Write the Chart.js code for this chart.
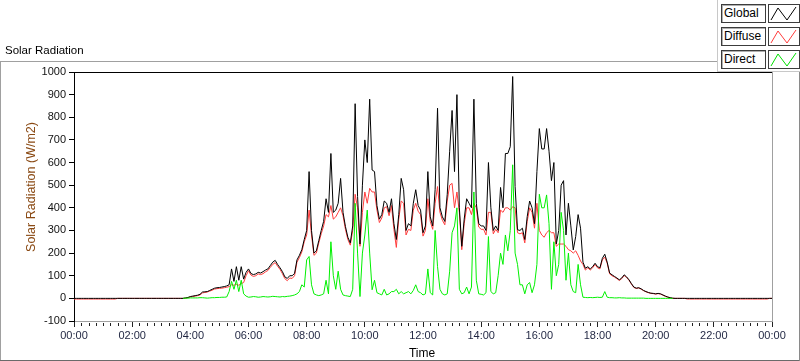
<!DOCTYPE html>
<html><head><meta charset="utf-8">
<script src="https://cdn.jsdelivr.net/npm/chart.js@4.4.1/dist/chart.umd.min.js"></script>
<style>
html,body{margin:0;padding:0;background:#fff;}
#wrap{position:relative;width:800px;height:361px;overflow:hidden;font-family:"Liberation Sans",Arial,sans-serif;color:#000;}
#c{position:absolute;left:0;top:0;}
.ln{position:absolute;}
#hdr{position:absolute;left:5px;top:43px;font-size:11.5px;line-height:14px;white-space:nowrap;}
#ytitle{position:absolute;left:-39px;top:179px;width:140px;height:16px;line-height:16px;text-align:center;font-size:12.5px;color:#8a4a14;transform:rotate(-90deg);white-space:nowrap;}
#xtitle{position:absolute;left:392px;top:346px;width:60px;text-align:center;font-size:12px;line-height:14px;}
#legend{position:absolute;left:717px;top:0;width:82px;height:71px;background:#fff;border-left:1px solid #c8c8c8;border-bottom:1px solid #c8c8c8;}
.lt{position:absolute;left:3px;width:41px;height:17px;border:1px solid #3c3c3c;box-shadow:inset 1px 1px 0 #b0b0b0;font-size:12px;line-height:17px;padding-left:2px;box-sizing:content-box;white-space:nowrap;background:#fff;}
.li{position:absolute;left:50px;width:30px;height:17px;border:1px solid #3c3c3c;background:#fff;}
.li svg{position:absolute;left:0;top:0;}
</style></head><body>
<div id="wrap">
<canvas id="c" width="800" height="361"></canvas>
<div class="ln" style="left:0;top:61px;width:717px;height:1px;background:#a0a0a0"></div>
<div class="ln" style="left:0;top:61px;width:1px;height:300px;background:#a0a0a0"></div>
<div class="ln" style="left:0;top:360px;width:800px;height:1px;background:#6a6a6a"></div>
<div class="ln" style="left:799px;top:61px;width:1px;height:300px;background:#8a8a8a"></div>
<div id="hdr">Solar Radiation</div>
<div id="ytitle">Solar Radiation (W/m2)</div>
<div id="xtitle">Time</div>
<div id="legend">
  <div class="lt" style="top:4px">Global</div>
  <div class="li" style="top:4px"><svg width="30" height="17"><polyline points="2,15 9,3 18,15 27,2" fill="none" stroke="#000" stroke-width="1"/></svg></div>
  <div class="lt" style="top:27px">Diffuse</div>
  <div class="li" style="top:27px"><svg width="30" height="17"><polyline points="2,15 9,3 18,15 27,2" fill="none" stroke="#ff3c3c" stroke-width="1"/></svg></div>
  <div class="lt" style="top:50px">Direct</div>
  <div class="li" style="top:50px"><svg width="30" height="17"><polyline points="2,15 9,3 18,15 27,2" fill="none" stroke="#00e000" stroke-width="1"/></svg></div>
</div>
</div>
<script>
// samples every 5 minutes from 00:00 to 24:00, one row per hour
const minutesPerStep = 5;
const globalRad = [
0,0,0,0,0,0,0,0,0,0,0,0,
0,0,0,0,0,0,0,0,0,0,0,0,
0,0,0,0,0,0,0,0,0,0,0,0,
0,0,0,0,0,0,0,0,0,0,2,4,
8,10,12,14,18,28,29,30,35,40,45,47,
48,50,52,55,60,130,75,140,80,140,85,115,
130,110,105,108,115,112,118,125,130,145,160,168,
150,135,118,95,88,100,100,110,170,190,215,260,
300,560,300,200,210,255,300,340,440,380,640,380,
390,420,530,380,317,270,245,320,860,450,240,500,
700,600,880,567,560,410,350,370,430,420,380,440,
330,260,370,530,480,300,330,320,420,480,410,390,
290,320,560,360,320,480,840,400,360,340,460,650,
830,560,900,400,230,350,440,420,400,880,420,330,
320,320,300,600,400,300,320,300,490,400,640,640,
670,980,494,303,300,310,260,361,430,400,330,560,
750,660,660,750,650,520,600,240,300,500,520,280,
420,320,214,273,370,310,160,133,140,130,140,155,
140,135,177,195,160,112,104,97,90,82,90,104,
95,82,65,50,45,47,42,35,30,26,23,22,
20,22,20,15,10,6,3,1,0,0,0,0,
0,0,0,0,0,0,0,0,0,0,0,0,
0,0,0,0,0,0,0,0,0,0,0,0,
0,0,0,0,0,0,0,0,0,0,0,0,
0];
const diffuseRad = [
-3,-3,-3,-3,-3,-3,-3,-3,-3,-3,-3,-3,
-3,-3,-3,-3,-3,-3,0,0,0,0,0,0,
0,0,0,0,0,0,0,0,0,0,0,0,
0,0,0,0,0,0,0,0,0,0,1,3,
6,8,10,12,15,24,26,28,32,36,41,43,
44,45,47,49,52,60,58,62,58,65,70,100,
122,103,97,100,108,105,109,117,123,137,150,158,
142,128,109,87,78,90,88,100,160,180,205,250,
280,390,280,190,200,245,285,320,370,360,410,350,
360,380,400,365,305,260,235,300,460,400,230,380,
470,420,486,470,470,390,335,355,400,405,365,410,
305,225,350,430,420,280,305,300,390,420,385,370,
275,300,440,340,305,420,494,380,345,325,430,500,
508,400,470,380,215,330,400,400,370,420,400,315,
305,305,280,380,380,285,305,290,390,380,400,400,
390,405,400,290,285,290,245,340,400,380,310,420,
300,280,270,290,300,290,290,230,240,240,240,230,
215,210,200,210,190,165,150,125,135,125,135,150,
135,130,170,182,155,108,100,94,87,79,87,101,
92,80,63,48,44,46,41,34,29,25,22,21,
19,21,19,14,9,5,2,0,0,0,0,0,
0,-3,-3,-3,-3,-3,-3,-3,-3,-3,-3,-3,
-3,-3,-3,-3,-3,-3,-3,-3,-3,-3,-3,-3,
-3,-3,-3,-3,-3,-3,-3,-3,-3,-3,-3,0,
0];
const directRad = [
null,null,null,null,null,null,null,null,null,null,null,null,
null,null,null,null,null,null,null,null,null,null,null,null,
null,null,null,null,null,null,null,null,null,null,null,null,
null,null,null,null,null,null,null,null,null,0,1,1,
2,2,2,2,3,3,2,1,2,3,3,4,
4,5,5,6,30,75,40,80,30,80,20,10,
5,6,8,7,5,6,8,7,6,7,9,8,
7,6,8,7,9,10,12,15,20,30,60,50,
170,185,60,20,15,12,15,20,80,20,250,100,
40,120,40,15,12,10,8,40,420,200,8,200,
280,390,200,38,80,25,20,15,40,15,20,30,
30,40,20,30,20,25,30,20,35,60,30,25,
15,20,130,25,15,300,140,40,20,15,20,120,
290,320,400,40,20,25,50,20,50,470,80,20,
18,15,25,273,30,20,25,100,200,150,280,210,
300,590,200,150,60,60,20,60,70,25,60,150,
460,400,400,457,330,40,250,100,150,380,300,80,
200,60,30,25,150,60,5,4,3,4,3,4,
5,4,5,30,5,3,3,2,2,3,2,2,
1,1,1,1,1,1,1,1,0,0,0,0,
0,0,0,0,0,0,0,0,null,null,null,null,
null,null,null,null,null,null,null,null,null,null,null,null,
null,null,null,null,null,null,null,null,null,null,null,null,
null,null,null,null,null,null,null,null,null,null,null,null,
null];
const timeTickLabels = ['00:00','02:00','04:00','06:00','08:00','10:00','12:00','14:00','16:00','18:00','20:00','22:00','00:00'];
const yMin = -100, yMax = 1000, yStep = 100;
const xMin = 0, xMax = 1440, xMajor = 120, xMinor = 15;

function toPoints(arr){ return arr.map((v,i)=>({x:i*minutesPerStep, y:v})); }

const framePlugin = {
  id:'frame',
  afterDraw(chart){
    const ctx = chart.ctx, a = chart.chartArea, xs = chart.scales.x;
    ctx.save();
    ctx.lineWidth = 1;
    ctx.strokeStyle = '#000';
    ctx.beginPath(); ctx.moveTo(a.left, Math.round(a.top)+0.5); ctx.lineTo(a.right, Math.round(a.top)+0.5); ctx.stroke();
    ctx.strokeStyle = '#a0a0a0';
    ctx.beginPath(); ctx.moveTo(Math.round(a.right)+0.5, a.top); ctx.lineTo(Math.round(a.right)+0.5, a.bottom); ctx.stroke();
    ctx.strokeStyle = '#222';
    for (let m = xMin; m <= xMax; m += xMinor){
      if (m % xMajor === 0) continue;
      const px = Math.round(xs.getPixelForValue(m)) + 0.5;
      ctx.beginPath(); ctx.moveTo(px, a.bottom + 2); ctx.lineTo(px, a.bottom + 5); ctx.stroke();
    }
    ctx.restore();
  }
};

const font = {family:'"Liberation Sans", Arial, sans-serif', size:11};
new Chart(document.getElementById('c'), {
  type:'line',
  data:{datasets:[
    {label:'Direct', data:toPoints(directRad), borderColor:'#00f000', borderWidth:1, pointRadius:0, spanGaps:false},
    {label:'Global', data:toPoints(globalRad), borderColor:'#000000', borderWidth:1, pointRadius:0},
    {label:'Diffuse', data:toPoints(diffuseRad), borderColor:'#ff3c3c', borderWidth:1, pointRadius:0}
  ]},
  options:{
    responsive:false, animation:false, devicePixelRatio:1,
    layout:{padding:{top:72, right:28, left:0, bottom:0}},
    plugins:{legend:{display:false}, tooltip:{enabled:false}},
    elements:{line:{tension:0}},
    scales:{
      x:{type:'linear', min:xMin, max:xMax,
        afterFit(s){ s.height = 40; },
        ticks:{stepSize:xMajor, autoSkip:false, maxRotation:0, padding:2, color:'#1e2440', font:font,
          callback:(v)=>timeTickLabels[Math.round(v/xMajor)]},
        grid:{drawOnChartArea:false, drawTicks:true, tickLength:6, tickColor:'#222'},
        border:{display:true, color:'#a0a0a0'}},
      y:{min:yMin, max:yMax,
        afterFit(s){ s.width = 74; },
        ticks:{stepSize:yStep, padding:3, color:'#111', font:font,
          callback:(v)=>String(v)},
        grid:{drawOnChartArea:false, drawTicks:true, tickLength:5, tickColor:'#000'},
        border:{display:true, color:'#000'}}
    }
  },
  plugins:[framePlugin]
});
</script>
</body></html>
